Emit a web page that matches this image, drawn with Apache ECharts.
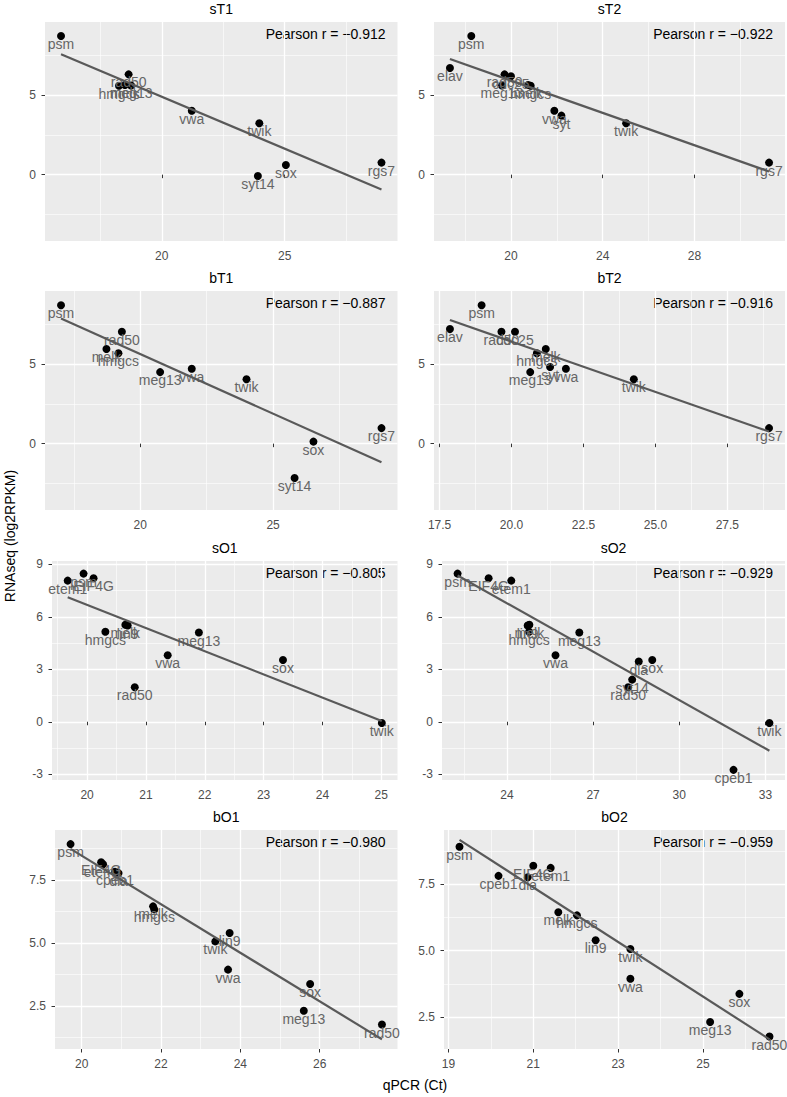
<!DOCTYPE html>
<html><head><meta charset="utf-8">
<script src="https://cdn.jsdelivr.net/npm/echarts@6/dist/echarts.min.js"></script>
<style>html,body{margin:0;padding:0;background:#fff}#chart{width:787px;height:1097px}</style>
</head><body><div id="chart"></div>
<script>
// ---------------- data ----------------
const panelTitles = ['sT1','sT2','bT1','bT2','sO1','sO2','bO1','bO2'];
const pearsonLabels = ['Pearson r = \u22120.912','Pearson r = \u22120.922','Pearson r = \u22120.887','Pearson r = \u22120.916',
                       'Pearson r = \u22120.805','Pearson r = \u22120.929','Pearson r = \u22120.980','Pearson r = \u22120.959'];
const xAxisTitle = 'qPCR (Ct)';
const yAxisTitle = 'RNAseq (log2RPKM)';

const sT1_genes  = ['psm','rad50','hmgcs','melk','meg13','vwa','twik','syt14','sox','rgs7'];
const sT1_qpcr   = [15.90,18.65,18.26,18.50,18.75,21.22,23.97,23.91,25.05,28.94];
const sT1_rnaseq = [8.74,6.32,5.60,5.65,5.62,4.03,3.24,-0.08,0.61,0.76];

const sT2_genes  = ['elav','psm','rad50','cdc25','meg13','melk','hmgcs','vwa','syt','twik','rgs7'];
const sT2_qpcr   = [17.34,18.27,19.72,20.00,19.61,20.75,20.86,21.89,22.20,25.02,31.25];
const sT2_rnaseq = [6.72,8.74,6.32,6.20,5.62,5.65,5.60,4.03,3.72,3.24,0.76];

const bT1_genes  = ['psm','rad50','melk','hmgcs','meg13','vwa','twik','sox','syt14','rgs7'];
const bT1_qpcr   = [17.02,19.31,18.73,19.18,20.75,21.94,24.00,26.52,25.81,29.08];
const bT1_rnaseq = [8.72,7.05,5.96,5.70,4.51,4.72,4.06,0.13,-2.16,0.98];

const bT2_genes  = ['elav','psm','rad50','cdc25','melk','hmgcs','meg13','syt','vwa','twik','rgs7'];
const bT2_qpcr   = [17.86,18.96,19.65,20.12,21.19,20.88,20.65,21.34,21.89,24.25,28.95];
const bT2_rnaseq = [7.22,8.72,7.05,7.05,5.96,5.70,4.51,4.83,4.72,4.06,0.98];

const sO1_genes  = ['etem1','psm','EIF4G','hmgcs','melk','lin9','rad50','vwa','meg13','sox','twik'];
const sO1_qpcr   = [19.67,19.94,20.11,20.31,20.65,20.69,20.81,21.37,21.90,23.33,25.01];
const sO1_rnaseq = [8.07,8.47,8.20,5.15,5.55,5.50,1.97,3.80,5.10,3.53,-0.07];

const sO2_genes  = ['psm','EIF4G','etem1','lin9','melk','hmgcs','vwa','meg13','dla','sox','syt14','rad50','cpeb1','twik'];
const sO2_qpcr   = [22.28,23.36,24.15,24.72,24.78,24.77,25.69,26.52,28.59,29.06,28.36,28.22,31.89,33.14];
const sO2_rnaseq = [8.47,8.20,8.07,5.50,5.55,5.15,3.80,5.10,3.44,3.53,2.41,1.97,-2.75,-0.07];

const bO1_genes  = ['psm','EIF4G','etem1','cpeb1','dla','melk','hmgcs','twik','lin9','vwa','meg13','sox','rad50'];
const bO1_qpcr   = [19.72,20.49,20.54,20.84,20.93,21.80,21.83,23.37,23.73,23.69,25.60,25.76,27.57];
const bO1_rnaseq = [8.92,8.20,8.12,7.82,7.77,6.45,6.33,5.06,5.39,3.94,2.31,3.37,1.76];

const bO2_genes  = ['psm','EIF4G','etem1','cpeb1','dla','melk','hmgcs','twik','lin9','vwa','meg13','sox','rad50'];
const bO2_qpcr   = [19.26,21.00,21.41,20.18,20.87,21.59,22.03,23.29,22.47,23.29,25.17,25.86,26.57];
const bO2_rnaseq = [8.92,8.20,8.12,7.82,7.77,6.45,6.33,5.06,5.39,3.94,2.31,3.37,1.76];

// tick labels (major) and minor grid values
const sT1_xTicks = ['20','25'];                 const sT1_xMinor = [17.5,22.5,27.5];
const sT2_xTicks = ['20','24','28'];            const sT2_xMinor = [18,22,26,30];
const bT1_xTicks = ['20','25'];                 const bT1_xMinor = [17.5,22.5,27.5];
const bT2_xTicks = ['17.5','20.0','22.5','25.0','27.5']; const bT2_xMinor = [18.75,21.25,23.75,26.25,28.75];
const sO1_xTicks = ['20','21','22','23','24','25']; const sO1_xMinor = [19.5,20.5,21.5,22.5,23.5,24.5];
const sO2_xTicks = ['24','27','30','33'];       const sO2_xMinor = [22.5,25.5,28.5,31.5];
const bO1_xTicks = ['20','22','24','26'];       const bO1_xMinor = [19,21,23,25,27];
const bO2_xTicks = ['19','21','23','25'];       const bO2_xMinor = [20,22,24,26];

const T_yTicks  = ['0','5'];                const T_yMinor  = [-2.5,2.5,7.5];
const sO_yTicks = ['-3','0','3','6','9'];   const sO_yMinor = [-1.5,1.5,4.5,7.5];
const bO_yTicks = ['2.5','5.0','7.5'];      const bO_yMinor = [1.25,3.75,6.25,8.75];

const T_yLimits   = [-4.18, 9.62];
const sO_yLimits  = [-3.33, 9.19];
const bO1_yLimits = [0.79, 9.48];
const bO2_yLimits = [1.29, 9.55];

// ---------------- layout ----------------
const FF = '"Liberation Sans", Arial, Helvetica, sans-serif';
const rowTop = [22, 291, 561, 830];
const plotH = 219;
const colLefts = [[45,434],[45,434],[52,442],[55,444]];
const colRights = [397.5, 785];

const panels = [
  {g:sT1_genes,x:sT1_qpcr,y:sT1_rnaseq,xt:sT1_xTicks,xm:sT1_xMinor,yt:T_yTicks,ym:T_yMinor,yl:T_yLimits},
  {g:sT2_genes,x:sT2_qpcr,y:sT2_rnaseq,xt:sT2_xTicks,xm:sT2_xMinor,yt:T_yTicks,ym:T_yMinor,yl:T_yLimits},
  {g:bT1_genes,x:bT1_qpcr,y:bT1_rnaseq,xt:bT1_xTicks,xm:bT1_xMinor,yt:T_yTicks,ym:T_yMinor,yl:T_yLimits},
  {g:bT2_genes,x:bT2_qpcr,y:bT2_rnaseq,xt:bT2_xTicks,xm:bT2_xMinor,yt:T_yTicks,ym:T_yMinor,yl:T_yLimits},
  {g:sO1_genes,x:sO1_qpcr,y:sO1_rnaseq,xt:sO1_xTicks,xm:sO1_xMinor,yt:sO_yTicks,ym:sO_yMinor,yl:sO_yLimits},
  {g:sO2_genes,x:sO2_qpcr,y:sO2_rnaseq,xt:sO2_xTicks,xm:sO2_xMinor,yt:sO_yTicks,ym:sO_yMinor,yl:sO_yLimits},
  {g:bO1_genes,x:bO1_qpcr,y:bO1_rnaseq,xt:bO1_xTicks,xm:bO1_xMinor,yt:bO_yTicks,ym:bO_yMinor,yl:bO1_yLimits},
  {g:bO2_genes,x:bO2_qpcr,y:bO2_rnaseq,xt:bO2_xTicks,xm:bO2_xMinor,yt:bO_yTicks,ym:bO_yMinor,yl:bO2_yLimits}
];

function linfit(xs, ys) {
  const n = xs.length;
  const mx = xs.reduce((a,b)=>a+b,0)/n, my = ys.reduce((a,b)=>a+b,0)/n;
  let sxx = 0, sxy = 0;
  for (let i=0;i<n;i++){ sxx += (xs[i]-mx)*(xs[i]-mx); sxy += (xs[i]-mx)*(ys[i]-my); }
  const b = sxy/sxx; return {a: my - b*mx, b};
}

const grids = [], xAxes = [], yAxes = [], series = [], graphics = [];

function axisPair(kind, gi, lim, ticks, minors) {
  const majV = ticks.map(Number);
  const lab = {}; ticks.forEach(t => { lab[Number(t)] = t; });
  const common = {type:'value', gridIndex: gi, min: lim[0], max: lim[1], position: kind==='x' ? 'bottom' : 'left',
                  axisLine:{show:false}, minorTick:{show:false}, minorSplitLine:{show:false}, silent:true};
  const major = Object.assign({}, common, {
    axisTick:{show:true, customValues: majV, length:3.5, lineStyle:{color:'#333333', width:1}},
    axisLabel:{show:true, customValues: majV, formatter: v => (lab[v] !== undefined ? lab[v] : String(v)),
               color:'#4d4d4d', fontSize:12, fontWeight:'normal', fontFamily:FF, margin:9},
    splitLine:{show:true, lineStyle:{color:'#ffffff', width:1.3}}
  });
  const minor = Object.assign({}, common, {
    axisTick:{show:false, customValues: minors},
    axisLabel:{show:false, customValues: minors},
    splitLine:{show:true, lineStyle:{color:'#ffffff', width:0.6}}
  });
  return [major, minor];
}

function txt(text, x, y, align, extra) {
  return Object.assign({type:'text', x, y, silent:true,
    style:{text, align, verticalAlign:'middle', fill:'#000000', fontSize:14, fontWeight:'normal', fontFamily:FF}}, extra || {});
}

panels.forEach((p, i) => {
  const row = Math.floor(i/2), col = i%2;
  const left = colLefts[row][col], right = colRights[col], top = rowTop[row];
  grids.push({left, top, width: right-left, height: plotH, show:true, backgroundColor:'#EBEBEB', borderWidth:0});
  const xmin = Math.min(...p.x), xmax = Math.max(...p.x), xr = xmax - xmin;
  const xl = [xmin - 0.05*xr, xmax + 0.05*xr];
  xAxes.push(...axisPair('x', i, xl, p.xt, p.xm));
  yAxes.push(...axisPair('y', i, p.yl, p.yt, p.ym));
  const fit = linfit(p.x, p.y);
  series.push({
    type:'scatter', xAxisIndex: 2*i, yAxisIndex: 2*i, symbolSize: 8, silent:true, z:2,
    itemStyle:{color:'#000000', opacity:1},
    data: p.g.map((g,k)=>({name:g, value:[p.x[k], p.y[k]]})),
    label:{show:true, formatter: q => q.name, position:'inside', offset:[0,8],
           color:'#666666', fontSize:14, fontWeight:'normal', fontFamily:FF}
  });
  series.push({
    type:'line', xAxisIndex: 2*i, yAxisIndex: 2*i, silent:true, z:3, showSymbol:false, symbol:'none',
    lineStyle:{color:'#595959', width:2.2},
    data: [[xmin, fit.a + fit.b*xmin], [xmax, fit.a + fit.b*xmax]]
  });
  graphics.push(txt(panelTitles[i], (left+right)/2, top-13, 'center'));
  graphics.push(txt(pearsonLabels[i], right-12, top+12, 'right'));
});

graphics.push(txt(xAxisTitle, 415, 1085, 'center'));
graphics.push(txt(yAxisTitle, 10, 536, 'center', {rotation: Math.PI/2}));

const chart = echarts.init(document.getElementById('chart'), null, {renderer:'svg', width:787, height:1097});
chart.setOption({
  animation:false,
  backgroundColor:'#ffffff',
  grid: grids, xAxis: xAxes, yAxis: yAxes, series, graphic: graphics
});
</script></body></html>
